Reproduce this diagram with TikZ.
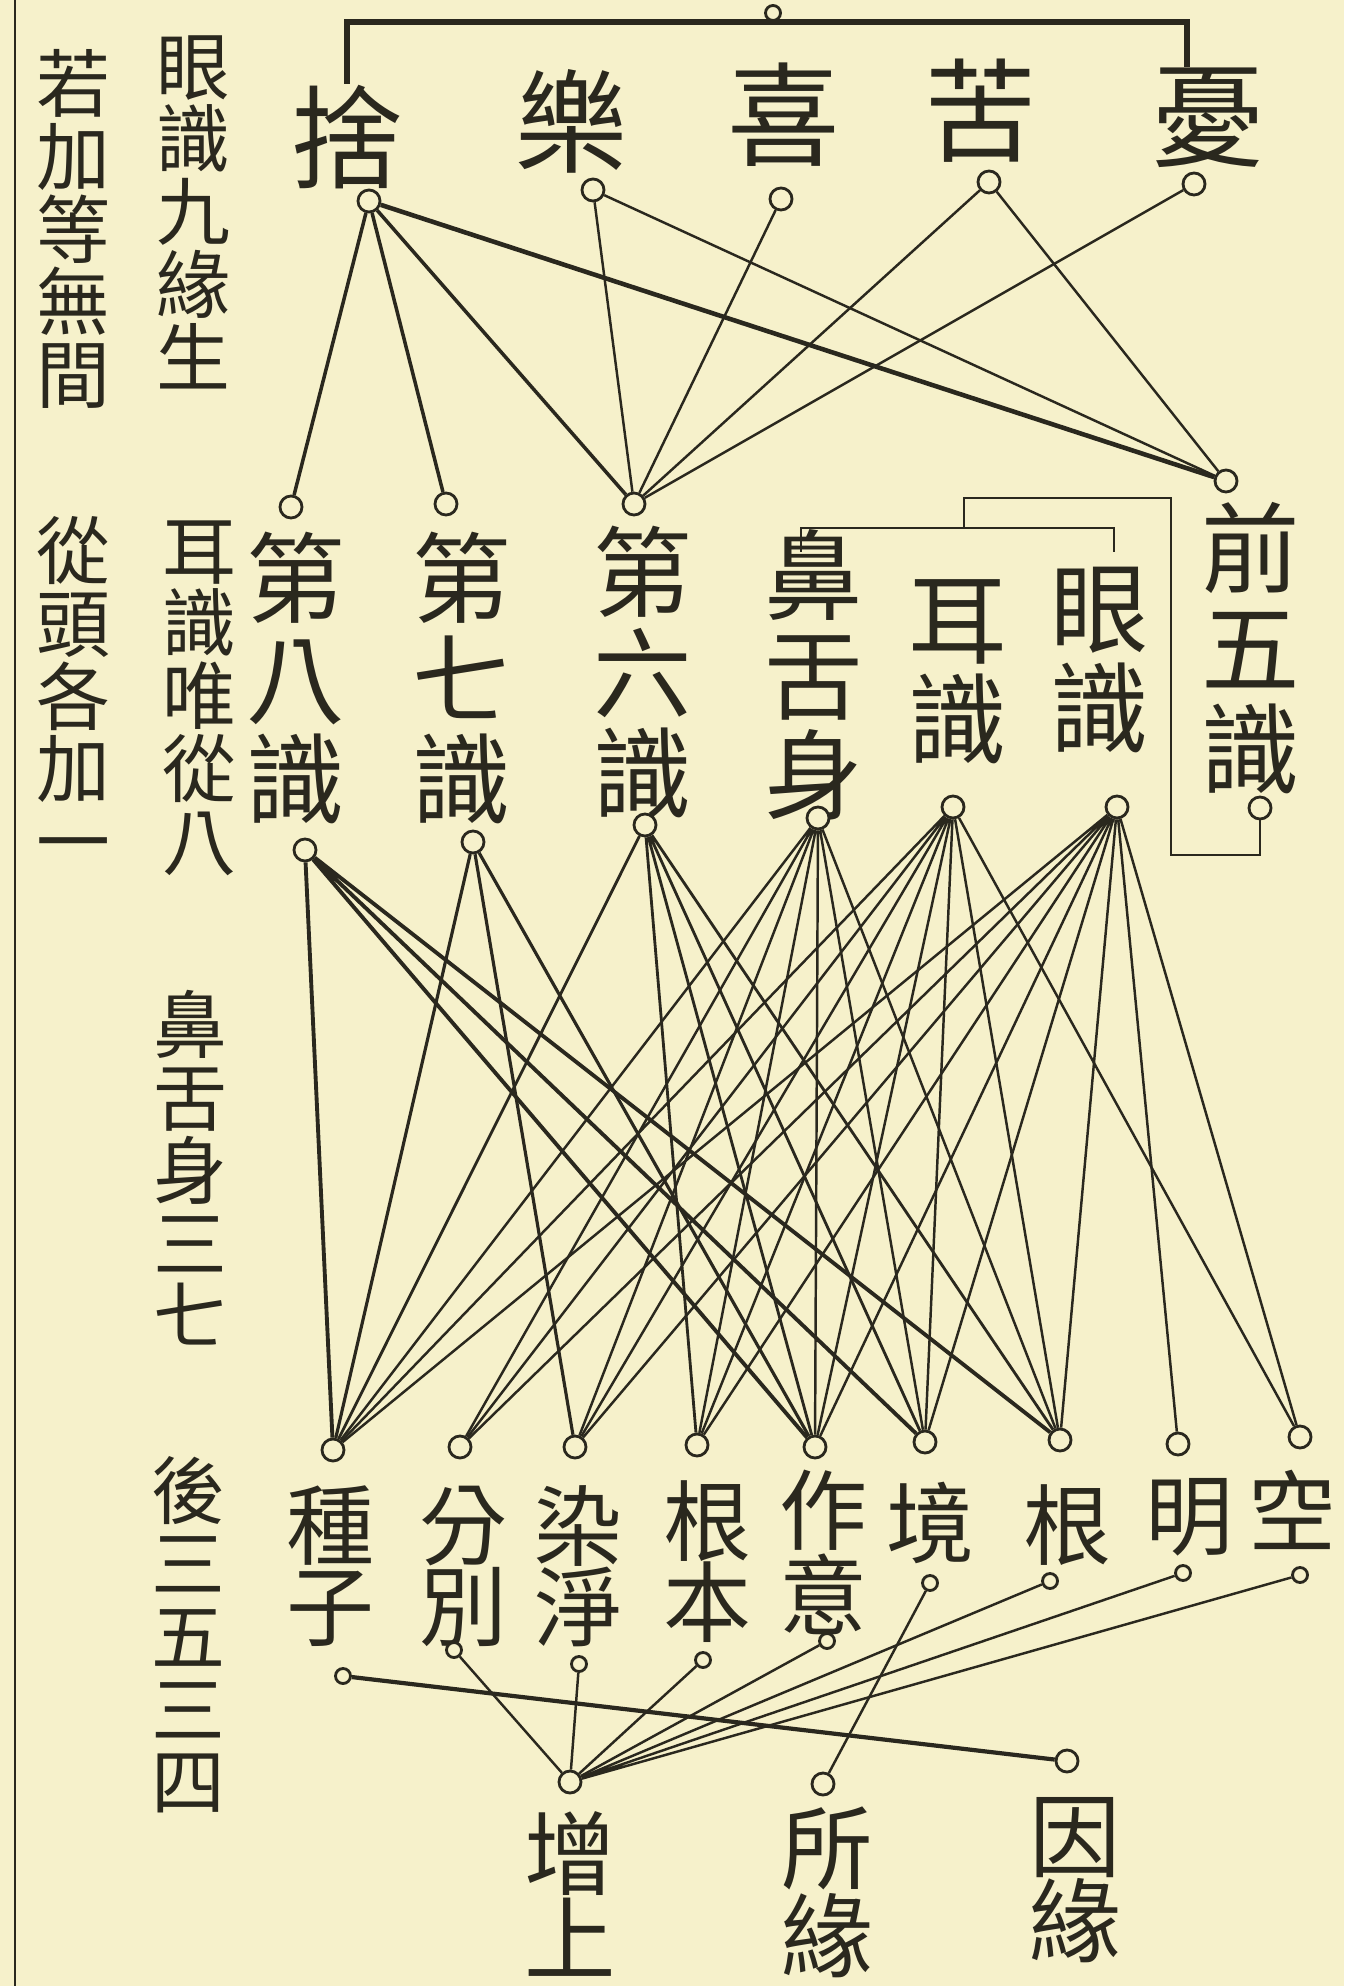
\documentclass[tikz,border=0pt]{standalone}
\usepackage{fontspec}
\newfontfamily\cjk{Noto Sans CJK TC}
\definecolor{paper}{RGB}{246,241,203}
\definecolor{ink}{RGB}{42,40,30}

\begin{document}
\begin{tikzpicture}[x=0.01cm, y=-0.01cm, color=ink, line width=0.7pt,
    ring/.style={circle, draw=ink, fill=paper, inner sep=0pt, minimum size=0.22cm, line width=0.8pt},
    smallring/.style={ring, minimum size=0.15cm},
    feeltext/.style={font=\cjk\fontsize{32}{34}\selectfont, inner sep=0pt},
    mindtext/.style={font=\cjk\fontsize{28}{28.5}\selectfont, align=center, inner sep=0pt},
    condtext/.style={font=\cjk\fontsize{25}{23}\selectfont, align=center, inner sep=0pt},
    basetext/.style={font=\cjk\fontsize{26}{24}\selectfont, align=center, inner sep=0pt},
    notetext/.style={font=\cjk\fontsize{21}{20.7}\selectfont, align=center, inner sep=0pt}]
    \useasboundingbox (0,0) rectangle (1344,1986);
    \clip (0,0) rectangle (1344,1986);
    \fill[paper] (0,0) rectangle (1344,1986);
    \draw[line width=0.5pt] (15,0) -- (15,1986);

    \node[notetext] (Yan9) at (193,212) {眼\\識\\九\\緣\\生};
    \node[notetext] (RuoJia) at (73,229) {若\\加\\等\\無\\間};
    \node[notetext] (Er8) at (199,698) {耳\\識\\唯\\從\\八};
    \node[notetext] (CongTou) at (73,693) {從\\頭\\各\\加\\一};
    \node[notetext] (Bi37) at (190,1168) {鼻\\舌\\身\\三\\七};
    \node[notetext] (Hou) at (188,1635) {後\\三\\五\\三\\四};

    \node[smallring] (TopC) at (773,13) {};
    \node[feeltext] (She) at (347,137) {捨};
    \node[feeltext] (Le) at (572,121) {樂};
    \node[feeltext] (Xi) at (784,115) {喜};
    \node[feeltext] (Ku) at (981,111) {苦};
    \node[feeltext] (You) at (1209,118) {憂};
    \node[ring] (SheC) at (369,201) {};
    \node[ring] (LeC) at (593,190) {};
    \node[ring] (XiC) at (781,199) {};
    \node[ring] (KuC) at (989,182) {};
    \node[ring] (YouC) at (1194,184) {};

    \node[ring] (BaT) at (291,507) {};
    \node[mindtext] (Ba) at (296,678) {第\\八\\識};
    \node[ring] (BaB) at (305,850) {};
    \node[ring] (QiT) at (446,504) {};
    \node[mindtext] (Qi) at (462,678) {第\\七\\識};
    \node[ring] (QiB) at (473,842) {};
    \node[ring] (LiuT) at (634,504) {};
    \node[mindtext] (Liu) at (643,672) {第\\六\\識};
    \node[ring] (LiuB) at (645,825) {};
    \node[mindtext] (Bi) at (814,675) {鼻\\舌\\身};
    \node[ring] (BiB) at (818,818) {};
    \node[mindtext] (Er) at (958,672) {耳\\識};
    \node[ring] (ErB) at (953,807) {};
    \node[mindtext] (Yan) at (1100,660) {眼\\識};
    \node[ring] (YanB) at (1117,807) {};
    \node[ring] (WuT) at (1226,481) {};
    \node[mindtext] (QianWu) at (1251,648) {前\\五\\識};
    \node[ring] (WuB) at (1260,808) {};

    \node[ring] (ZhongT) at (333,1450) {};
    \node[condtext] (Zhong) at (330,1566) {種\\子};
    \node[smallring] (ZhongB) at (343,1676) {};
    \node[ring] (FenT) at (460,1447) {};
    \node[condtext] (Fen) at (463,1566) {分\\別};
    \node[smallring] (FenB) at (454,1650) {};
    \node[ring] (RanT) at (575,1447) {};
    \node[condtext] (Ran) at (578,1566) {染\\淨};
    \node[smallring] (RanB) at (579,1664) {};
    \node[ring] (GenT) at (697,1445) {};
    \node[condtext] (Gen) at (707,1562) {根\\本};
    \node[smallring] (GenB) at (703,1660) {};
    \node[ring] (ZuoT) at (815,1447) {};
    \node[condtext] (Zuo) at (823,1552) {作\\意};
    \node[smallring] (ZuoB) at (827,1641) {};
    \node[ring] (JingT) at (925,1442) {};
    \node[condtext] (Jing) at (930,1523) {境};
    \node[smallring] (JingB) at (930,1583) {};
    \node[ring] (GenST) at (1060,1440) {};
    \node[condtext] (GenS) at (1067,1525) {根};
    \node[smallring] (GenSB) at (1050,1581) {};
    \node[ring] (MingT) at (1178,1444) {};
    \node[condtext] (Ming) at (1189,1517) {明};
    \node[smallring] (MingB) at (1183,1573) {};
    \node[ring] (KongT) at (1300,1437) {};
    \node[condtext] (Kong) at (1292,1510) {空};
    \node[smallring] (KongB) at (1300,1575) {};

    \node[ring] (ZengC) at (570,1782) {};
    \node[basetext] (Zeng) at (570,1894) {增\\上};
    \node[ring] (SuoC) at (823,1784) {};
    \node[basetext] (Suo) at (827,1892) {所\\緣};
    \node[ring] (YinC) at (1067,1761) {};
    \node[basetext] (Yin) at (1075,1880) {因\\緣};

    \draw[line width=1.5pt] (She.north) |- (TopC.south) -| ([xshift=-0.22cm]You.north);
    \draw (964,528) |- (1171,498) -- (1171,855) -| (WuB);
    \draw (801,552) |- (1114,528) -- (1114,552);

    \draw[line width=1pt] (SheC) -- (BaT) (SheC) -- (QiT) (SheC) -- (LiuT);
    \draw[line width=1.3pt] (SheC) -- (WuT);
    \draw (LeC) -- (LiuT) (LeC) -- (WuT);
    \draw (XiC) -- (LiuT);
    \draw (KuC) -- (LiuT) (KuC) -- (WuT);
    \draw (YouC) -- (LiuT);

    \draw[line width=1.1pt] (BaB) -- (ZhongT) (BaB) -- (ZuoT) (BaB) -- (JingT) (BaB) -- (GenST);
    \draw[line width=0.9pt] (QiB) -- (ZhongT) (QiB) -- (RanT) (QiB) -- (ZuoT);
    \draw[line width=0.8pt] (LiuB) -- (ZhongT) (LiuB) -- (GenT) (LiuB) -- (ZuoT) (LiuB) -- (JingT) (LiuB) -- (GenST);
    \draw (BiB) -- (ZhongT) (BiB) -- (FenT) (BiB) -- (RanT) (BiB) -- (GenT) (BiB) -- (ZuoT) (BiB) -- (JingT) (BiB) -- (GenST);
    \draw (ErB) -- (ZhongT) (ErB) -- (FenT) (ErB) -- (RanT) (ErB) -- (GenT) (ErB) -- (ZuoT) (ErB) -- (JingT) (ErB) -- (GenST) (ErB) -- (KongT);
    \draw (YanB) -- (ZhongT) (YanB) -- (FenT) (YanB) -- (RanT) (YanB) -- (GenT) (YanB) -- (ZuoT) (YanB) -- (JingT) (YanB) -- (GenST) (YanB) -- (MingT) (YanB) -- (KongT);

    \draw[line width=1.2pt] (ZhongB) -- (YinC);
    \draw (FenB) -- (ZengC) (RanB) -- (ZengC) (GenB) -- (ZengC) (ZuoB) -- (ZengC);
    \draw (GenSB) -- (ZengC) (MingB) -- (ZengC) (KongB) -- (ZengC);
    \draw (JingB) -- (SuoC);
\end{tikzpicture}
\end{document}
